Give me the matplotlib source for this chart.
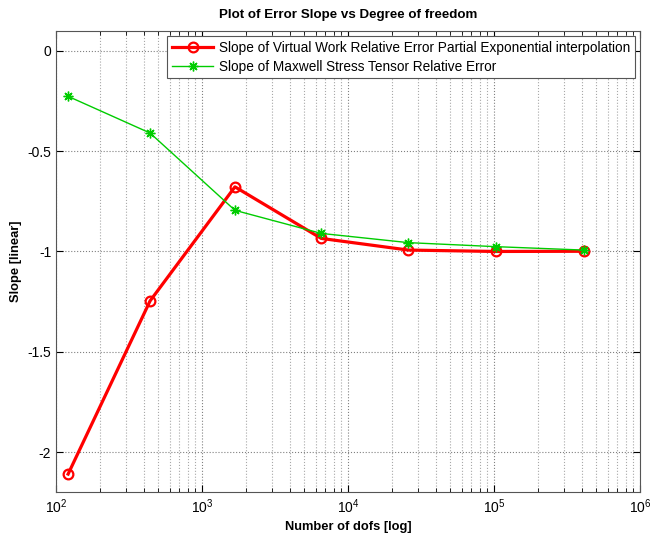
import numpy as np
import matplotlib
matplotlib.use("Agg")
import matplotlib.pyplot as plt
from matplotlib.ticker import LogLocator, NullFormatter

# DATA -------------------
dofs = [121, 441, 1681, 6561, 25921, 103041, 410881]
slope_vw = [-2.109, -1.246, -0.678, -0.935, -0.993, -1.000, -0.999]
slope_mst = [-0.227, -0.410, -0.795, -0.910, -0.956, -0.976, -0.993]

label_vw = "Slope of Virtual Work Relative Error Partial Exponential interpolation"
label_mst = "Slope of Maxwell Stress Tensor Relative Error"

# PLOTTING -------------
plt.rcParams.update({
    "font.family": ["Liberation Sans", "DejaVu Sans"],
    "font.size": 10,
    "mathtext.fontset": "custom",
    "mathtext.rm": "Liberation Sans",
})

fig = plt.figure(figsize=(6.5, 5.35), dpi=100)
ax = fig.add_axes([0.0862, 0.0798, 0.8984, 0.8628])

ax.plot(dofs, slope_vw, color="#ff0000", linewidth=2.3, marker="o",
        markersize=7, markerfacecolor="none", markeredgewidth=1.6,
        label=label_vw)
# asterisk marker with 8 spokes
ax.plot(dofs, slope_mst, color="#00cc00", linewidth=1.0, marker=(8, 2, 0),
        markersize=7, markeredgewidth=1.0, label=label_mst)

ax.set_xscale("log")
ax.set_xlim(1e2, 1e6)
ax.set_ylim(-2.2, 0.1)
ax.set_yticks([0, -0.5, -1, -1.5, -2])
ax.set_yticklabels(["0", "-0.5", "-1", "-1.5", "-2"])
ax.xaxis.set_major_locator(LogLocator(base=10, numticks=10))
ax.xaxis.set_minor_locator(LogLocator(base=10, subs=np.arange(2, 10), numticks=50))
ax.xaxis.set_minor_formatter(NullFormatter())

ax.grid(True, which="major", linestyle=":", color="#808080", linewidth=0.8)
ax.grid(True, which="minor", axis="x", linestyle=":", color="#a8a8a8", linewidth=0.8)
ax.tick_params(which="both", direction="in", top=True, right=True,
               labelsize=10, colors="black")
ax.tick_params(which="major", length=5)
ax.tick_params(which="minor", length=3)
for s in ax.spines.values():
    s.set_color("#555555")
    s.set_linewidth(0.8)

ax.set_title("Plot of Error Slope vs Degree of freedom", fontsize=9.6,
             fontweight="bold", pad=9)
ax.set_xlabel("Number of dofs [log]", fontsize=9.3, fontweight="bold")
ax.set_ylabel("Slope [linear]", fontsize=9.3, fontweight="bold")

leg = ax.legend(loc="upper right", fontsize=9.8, fancybox=False, framealpha=1,
                edgecolor="#555555", borderpad=0.35, labelspacing=0.35,
                handlelength=3.0, handletextpad=0.4, borderaxespad=0.4)
leg.get_frame().set_linewidth(0.8)

fig.savefig("out.png", dpi=100)
